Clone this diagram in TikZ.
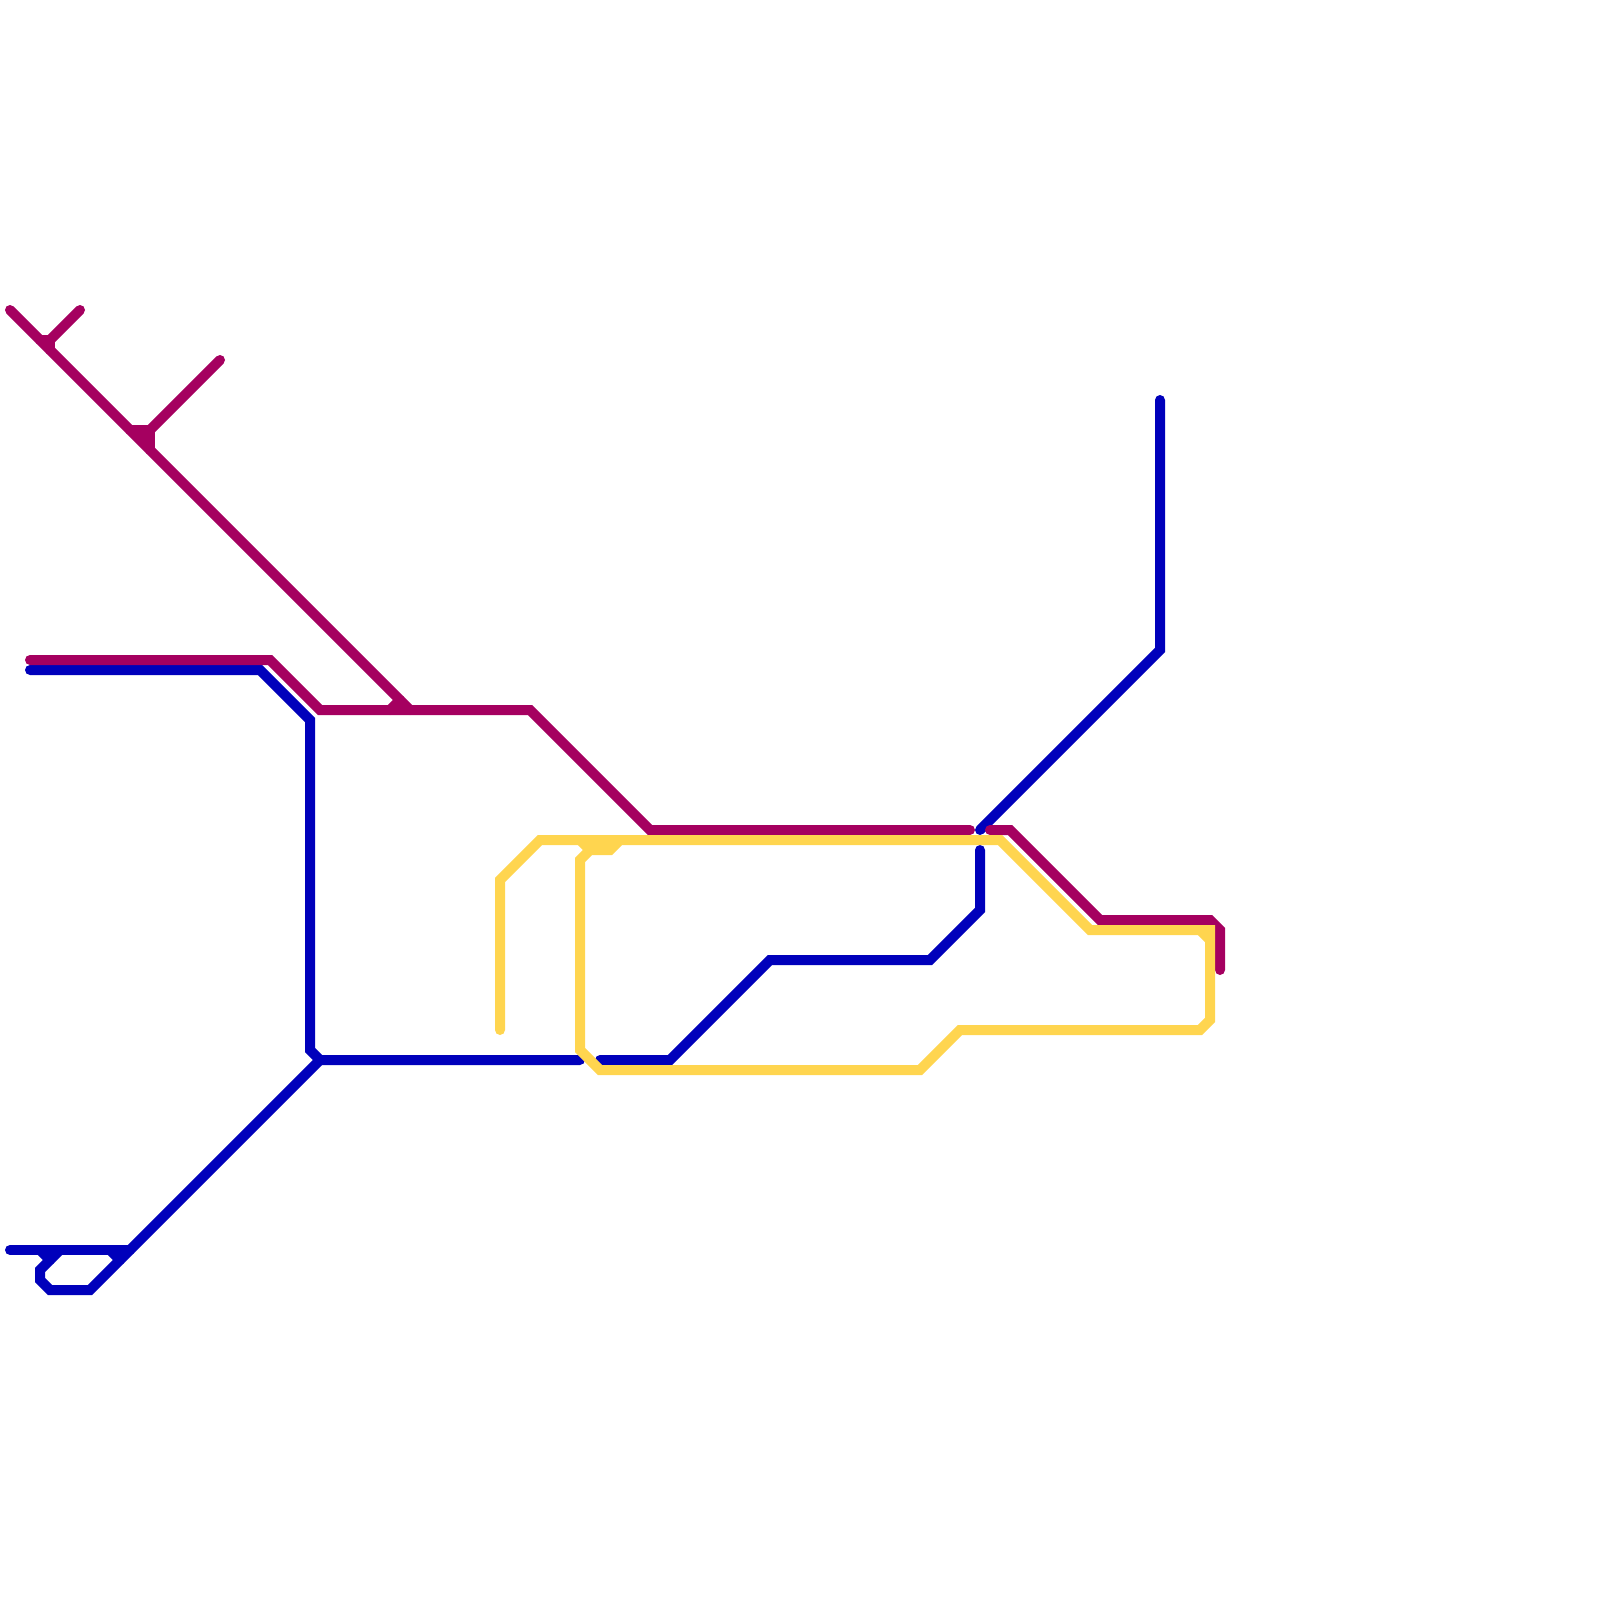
\documentclass[tikz,border=0pt]{standalone}
\definecolor{lineblue}{HTML}{0000BB}
\definecolor{linemag}{HTML}{A50060}
\definecolor{lineyel}{HTML}{FFD54F}
\tikzset{
  metro/.style={line width=10*0.01cm, line cap=round, line join=miter, miter limit=10},
  blueline/.style={metro, draw=lineblue},
  magline/.style={metro, draw=linemag},
  yelline/.style={metro, draw=lineyel}
}
\begin{document}
\begin{tikzpicture}[x=0.01cm,y=-0.01cm]
\useasboundingbox (0,0) rectangle (1600,1600);
% blue
\draw[blueline] (30,670) -- (260,670) -- (310,720) -- (310,1050) -- (320,1060) -- (580,1060);
\draw[blueline] (600,1060) -- (670,1060) -- (770,960) -- (930,960) -- (980,910) -- (980,850);
\draw[blueline] (980,830) -- (1160,650) -- (1160,400);
\draw[blueline] (320,1060) -- (90,1290) -- (50,1290) -- (40,1280) -- (40,1270) -- (60,1250);
\draw[blueline] (10,1250) -- (130,1250);
\draw[blueline] (40,1250) -- (50,1260);
\draw[blueline] (110,1250) -- (120,1260);
% magenta
\draw[magline] (10,310) -- (410,710);
\draw[magline] (80,310) -- (50,340) -- (40,340);
\draw[magline] (50,340) -- (50,350);
\draw[magline] (220,360) -- (150,430) -- (130,430);
\draw[magline] (150,430) -- (150,450);
\fill[linemag] (130,430) -- (150,430) -- (150,450) -- cycle;
\draw[magline] (390,710) -- (400,700);
\draw[magline] (30,660) -- (270,660) -- (320,710) -- (530,710) -- (650,830) -- (970,830);
\draw[magline] (990,830) -- (1010,830) -- (1100,920) -- (1210,920) -- (1220,930) -- (1220,970);
% yellow
\draw[yelline] (500,1030) -- (500,880) -- (540,840) -- (1000,840) -- (1090,930) -- (1210,930) -- (1210,1020) -- (1200,1030) -- (960,1030) -- (920,1070) -- (600,1070) -- (580,1050) -- (580,860) -- (590,850) -- (610,850) -- (620,840);
\draw[yelline] (580,840) -- (590,850);
\draw[yelline] (1200,930) -- (1210,940);
\end{tikzpicture}
\end{document}
